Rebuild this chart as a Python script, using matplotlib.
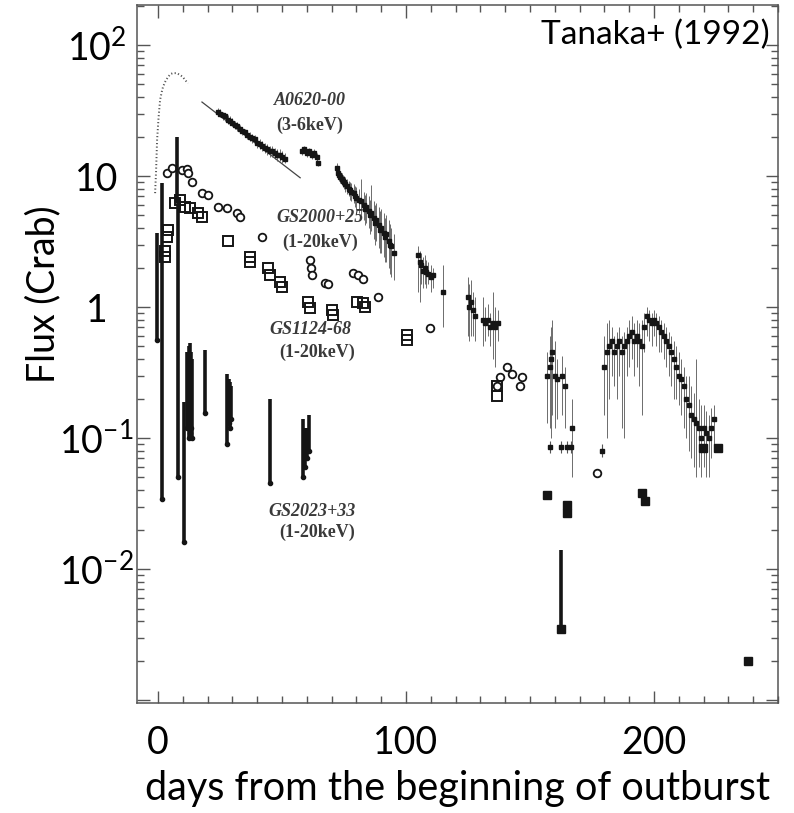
import matplotlib
matplotlib.use('Agg')
import matplotlib.pyplot as plt
import numpy as np
from matplotlib.ticker import FixedLocator, FixedFormatter, LogLocator, MultipleLocator, NullFormatter

plt.rcParams['font.family'] = ['Lato', 'DejaVu Sans']
plt.rcParams['mathtext.default'] = 'regular'

# ---------------- A0620-00 (3-6 keV) ----------------
rise_day = [-1.2, -0.8, -0.4, 0.2, 0.8, 1.5, 2.0, 3.0, 4.0, 5.0, 6.0, 7.5, 8.9, 10.0, 10.9, 12.1]
rise_flux = [7.4, 11, 18.8, 28, 38, 44, 48, 53, 57, 60, 61, 61, 59, 57, 54, 51]

fit_day = [17.7, 57.3]
fit_flux = [36.7, 9.7]

a0620_day = [24, 25, 26, 27, 28, 29, 30, 31, 32, 33, 34, 35, 36, 37, 38, 39, 40, 41, 42, 43,
             44, 45, 46, 47, 48, 49, 50, 51,
             58, 59, 60, 61, 62, 63, 64, 64.5,
             72, 72.5, 73, 73.5, 74, 74.5, 75, 75.5, 76, 77, 77.5, 78, 79, 79.5, 80, 81, 82, 83,
             83.5, 84, 85, 85.5, 86, 87, 87.5, 88, 89, 89.5, 90, 91, 91.5, 92, 93, 93.5, 94, 95,
             105, 105.5, 106, 107, 107.5, 108, 109, 110, 111, 115,
             125, 125.5, 126, 127, 128, 131, 132, 133, 134, 135, 136, 137,
             157, 158, 158.5, 159, 160, 161, 163, 164, 167,
             180, 181, 182, 183, 184, 185, 186, 187, 188, 189, 190, 191, 192, 193, 194, 195, 196,
             197, 198, 199, 200, 201, 202, 203, 204, 205, 206, 207, 208, 209, 210, 211, 212, 213,
             214, 215, 216, 217, 218, 219, 220, 221, 222, 223, 224]
a0620_flux = [31, 30, 29, 28.5, 27, 26.5, 25.5, 24.5, 24, 23, 22, 21.5, 20.5, 20, 19.5, 19, 18, 17.5, 17, 16.5,
              16, 15.5, 15.5, 15, 14.5, 14.5, 14, 13.5,
              15.5, 16, 15, 15.5, 14.5, 15, 14, 12.5,
              11.5, 10.5, 10.2, 9.8, 9.5, 9.2, 9.0, 8.7, 8.4, 8.0, 7.8, 7.6, 7.4, 7.0, 6.8, 6.6, 6.4, 6.0,
              5.6, 5.8, 5.4, 5.0, 5.2, 4.8, 4.4, 4.6, 4.2, 3.9, 4.0, 3.7, 3.4, 3.6, 3.2, 3.0, 2.9, 2.6,
              2.5, 2.2, 2.1, 1.9, 2.0, 1.85, 1.8, 1.7, 1.75, 1.3,
              1.2, 1.0, 1.1, 0.95, 0.85, 0.8, 0.75, 0.8, 0.7, 0.75, 0.7, 0.75,
              0.3, 0.35, 0.4, 0.45, 0.3, 0.28, 0.3, 0.25, 0.12,
              0.35, 0.45, 0.5, 0.55, 0.45, 0.5, 0.55, 0.45, 0.5, 0.55, 0.6, 0.65, 0.55, 0.6, 0.55, 0.5, 0.7,
              0.85, 0.8, 0.75, 0.8, 0.75, 0.7, 0.65, 0.6, 0.55, 0.5, 0.45, 0.4, 0.35, 0.3, 0.28, 0.25, 0.2,
              0.18, 0.15, 0.14, 0.13, 0.12, 0.1, 0.12, 0.11, 0.1, 0.12, 0.14]
a0620_lo = [29, 28, 27, 26.5, 25, 24.5, 24, 23, 22, 21.5, 20.5, 20, 19, 18.5, 18, 17.5, 16.5, 16, 15.5, 15,
            14.5, 14, 14, 13.5, 13, 13, 12.5, 12.5,
            14.5, 15, 14, 14.5, 13.5, 14, 13, 12,
            10.5, 9.5, 9.2, 8.8, 8.5, 8.2, 8.0, 7.6, 7.3, 7.0, 6.6, 6.4, 6.2, 5.8, 5.5, 5.2, 5.0, 4.6,
            4.2, 4.4, 4.0, 3.6, 3.8, 3.3, 3.0, 3.2, 2.8, 2.6, 2.6, 2.4, 2.2, 2.2, 2.0, 1.8, 1.7, 1.6,
            1.3, 1.1, 1.5, 1.4, 1.5, 1.4, 1.5, 1.3, 1.4, 0.7,
            0.6, 0.55, 0.6, 0.6, 0.55, 0.5, 0.55, 0.6, 0.5, 0.4, 0.35, 0.55,
            0.13, 0.12, 0.1, 0.15, 0.12, 0.14, 0.15, 0.12, 0.05,
            0.15, 0.1, 0.2, 0.3, 0.25, 0.2, 0.3, 0.12, 0.1, 0.3, 0.35, 0.4, 0.3, 0.35, 0.25, 0.15, 0.45,
            0.6, 0.55, 0.5, 0.6, 0.5, 0.45, 0.45, 0.4, 0.35, 0.3, 0.25, 0.2, 0.2, 0.18, 0.15, 0.12, 0.1,
            0.08, 0.07, 0.06, 0.05, 0.06, 0.05, 0.06, 0.05, 0.05, 0.07, 0.08]
a0620_hi = [33, 32.5, 31, 30, 29, 28.5, 27.5, 26.5, 26, 24.5, 23.5, 23, 22, 21.5, 21, 20.5, 19.5, 19, 18.5, 18,
            17.5, 17, 17, 16.5, 16, 16, 15.5, 15,
            16.5, 17, 16, 16.5, 15.5, 16, 15, 13,
            12.5, 11.5, 11.2, 10.8, 10.5, 10.2, 10.0, 9.8, 9.5, 9.2, 9.0, 8.8, 8.7, 8.4, 8.2, 8.0, 9.5, 7.6,
            7.2, 7.4, 7.0, 6.6, 8.5, 6.4, 6.0, 6.2, 5.8, 5.4, 5.6, 5.2, 4.8, 5.0, 4.6, 4.3, 4.0, 3.6,
            2.9, 2.7, 2.6, 2.4, 2.5, 2.3, 2.2, 2.1, 2.0, 2.1,
            1.7, 1.5, 1.6, 1.3, 1.2, 1.2, 1.0, 1.05, 0.9, 1.3, 1.0, 0.95,
            0.45, 0.6, 0.7, 0.8, 0.55, 0.4, 0.42, 0.35, 0.2,
            0.6, 0.75, 0.8, 0.7, 0.6, 0.65, 0.7, 0.6, 0.65, 0.7, 0.8, 0.85, 0.75, 0.8, 0.75, 0.8, 0.9,
            1.0, 0.95, 0.9, 0.95, 0.9, 0.85, 0.8, 0.75, 0.7, 0.65, 0.6, 0.55, 0.5, 0.45, 0.4, 0.35, 0.3,
            0.3, 0.25, 0.22, 0.4, 0.2, 0.18, 0.18, 0.16, 0.15, 0.17, 0.18]

ul_day = [158, 162.5, 165, 166.5, 179]
ul_flux = [0.085, 0.085, 0.085, 0.085, 0.08]

# ---------------- GS2000+25 (1-20 keV), open circles ----------------
gs2000_day = [3.6, 5.6, 9.7, 11.5, 12.1, 13.7, 17.7, 20.2, 24.2, 27.8, 31.9, 33.1, 41.9,
              61.3, 61.5, 62.0, 67.5, 68.5, 78.6, 80.5, 82.7, 88.7, 109.7,
              136.7, 137.9, 140.7, 142.7, 146.8, 146.0, 177]
gs2000_flux = [10.5, 11.5, 11.1, 11.3, 10.5, 9.0, 7.4, 7.2, 5.8, 5.7, 5.2, 4.9, 3.4,
               2.3, 1.98, 1.75, 1.52, 1.5, 1.82, 1.75, 1.65, 1.19, 0.69,
               0.25, 0.29, 0.35, 0.31, 0.29, 0.25, 0.054]

# ---------------- GS1124-68 (1-20 keV), open squares ----------------
gs1124_day = [6.9, 8.9, 10.9, 12.9, 16.1, 17.7, 4.0, 3.6, 2.8, 2.8, 28.2, 37.1, 37.1, 44.4, 45.2,
              49.2, 50.0, 60.5, 61.3, 70.2, 70.6, 80.2, 82.7, 83.5, 100.4, 100.4, 136.7, 136.7]
gs1124_flux = [6.2, 6.6, 5.8, 5.7, 5.2, 4.9, 3.9, 3.4, 2.7, 2.4, 3.2, 2.4, 2.2, 1.99, 1.76,
               1.55, 1.42, 1.09, 0.98, 0.95, 0.87, 1.09, 1.07, 1.0, 0.61, 0.56, 0.25, 0.21]

# ---------------- GS2023+33 (1-20 keV), dense vertical columns ----------------
gs2023_day = [-0.4, 1.6, 8.1, 7.7, 10.5, 11.8, 12.3, 12.8, 13.3, 13.8, 19.0,
              27.8, 28.4, 29.0, 29.6, 45.2, 58.6, 59.3, 60.0, 60.7]
gs2023_min = [0.56, 0.034, 0.05, 6.6, 0.016, 0.12, 0.10, 0.11, 0.12, 0.10, 0.155,
              0.09, 0.13, 0.12, 0.14, 0.045, 0.05, 0.06, 0.07, 0.08]
gs2023_max = [3.7, 8.9, 6.6, 19.9, 0.19, 0.45, 0.50, 0.53, 0.45, 0.40, 0.47,
              0.31, 0.28, 0.27, 0.25, 0.20, 0.14, 0.12, 0.12, 0.15]
late_day = [156.9, 164.9, 164.9, 195.3, 196.3, 219.8, 226.0, 162.5, 238.0]
late_flux = [0.037, 0.027, 0.031, 0.038, 0.033, 0.084, 0.084, 0.0035, 0.0020]
gs2023_late_col_day = [162.5]
gs2023_late_col_min = [0.0035]
gs2023_late_col_max = [0.014]

# ---------------- labels ----------------
x_ticks = [0, 100, 200]
x_ticklabels = ['0', '100', '200']
y_ticks = [1e-3, 1e-2, 1e-1, 1, 10, 100]
y_ticklabels = ['', r'$\mathregular{10^{-2}}$', r'$\mathregular{10^{-1}}$', '1', '10', r'$\mathregular{10^{2}}$']

fig = plt.figure(figsize=(7.94, 8.13), dpi=100)
ax = fig.add_axes([137 / 794, 1 - 703 / 813, (778 - 137) / 794, (703 - 5) / 813])
ax.set_yscale('log')
ax.set_xlim(-8.5, 250)
ax.set_ylim(9.5e-4, 202)

ink = '#151515'

# A0620-00
ax.plot(rise_day, rise_flux, linestyle=(0, (0.6, 1.2)), color='#555555', lw=1.4)
ax.plot(fit_day, fit_flux, '-', color='#444444', lw=0.9)
d = np.array(a0620_day); f = np.array(a0620_flux)
lo = np.array(a0620_lo); hi = np.array(a0620_hi)
ax.errorbar(d, f, yerr=[f - lo, hi - f], fmt='s', ms=2.2, mfc=ink, mec=ink,
            ecolor='#555555', elinewidth=0.6, capsize=0)
ax.errorbar(ul_day, ul_flux, yerr=[[0.008] * len(ul_day), [0.01] * len(ul_day)], fmt='s', ms=2.2,
            mfc=ink, mec=ink, ecolor='#555555', elinewidth=0.8, capsize=0)

# GS2000+25
ax.plot(gs2000_day, gs2000_flux, 'o', ms=5.5, mfc='white', mec=ink, mew=1.3, linestyle='none')
# GS1124-68
ax.plot(gs1124_day, gs1124_flux, 's', ms=6.5, mfc='none', mec=ink, mew=1.4, linestyle='none')
# GS2023+33
ax.vlines(gs2023_day, gs2023_min, gs2023_max, color=ink, lw=2.6)
ax.plot(gs2023_day, gs2023_min, 'o', ms=3, color=ink)
ax.vlines(gs2023_late_col_day, gs2023_late_col_min, gs2023_late_col_max, color=ink, lw=2.6)
ax.plot(late_day, late_flux, 's', ms=5.5, color=ink, linestyle='none')

# in-plot annotations (scanned figure labels)
lab_kw = dict(fontfamily='Liberation Serif', fontsize=13, color='#3a3a3a', ha='center', va='center')
ax.text(61.3, 38, 'A0620-00', style='italic', weight='bold', **lab_kw)
ax.text(61.3, 24.5, '(3-6keV)', weight='bold', **lab_kw)
ax.text(65.3, 4.8, 'GS2000+25', style='italic', weight='bold', **lab_kw)
ax.text(65.3, 3.1, '(1-20keV)', weight='bold', **lab_kw)
ax.text(61.3, 0.67, 'GS1124-68', style='italic', weight='bold', **lab_kw)
ax.text(64.0, 0.45, '(1-20keV)', weight='bold', **lab_kw)
ax.text(62.0, 0.0275, 'GS2023+33', style='italic', weight='bold', **lab_kw)
ax.text(64.0, 0.019, '(1-20keV)', weight='bold', **lab_kw)

# axes styling
for s in ax.spines.values():
    s.set_color('#555555')
    s.set_linewidth(1.1)
ax.xaxis.set_major_locator(FixedLocator(x_ticks))
ax.xaxis.set_major_formatter(FixedFormatter(x_ticklabels))
ax.xaxis.set_minor_locator(MultipleLocator(10))
ax.yaxis.set_major_locator(FixedLocator(y_ticks))
ax.yaxis.set_major_formatter(FixedFormatter(y_ticklabels))
ax.yaxis.set_minor_locator(LogLocator(base=10, subs=np.arange(2, 10)))
ax.yaxis.set_minor_formatter(NullFormatter())
ax.tick_params(which='both', direction='in', top=True, right=True, color='#555555', width=1)
ax.tick_params(which='major', length=9)
ax.tick_params(which='minor', length=5)
ax.tick_params(axis='x', which='major', labelsize=27, pad=16)
ax.tick_params(axis='y', which='major', labelsize=27, pad=29)
for lab in ax.get_yticklabels():
    lab.set_horizontalalignment('center')

ax.set_xlabel('days from the beginning of outburst', fontsize=28.5, labelpad=6)
ax.set_ylabel('Flux (Crab)', fontsize=27)
ax.yaxis.set_label_coords(-0.118, 0.585)

fig.text(770 / 794, 1 - 20 / 813, 'Tanaka+ (1992)', fontsize=24, ha='right', va='top')

fig.savefig('out.png', dpi=100)
